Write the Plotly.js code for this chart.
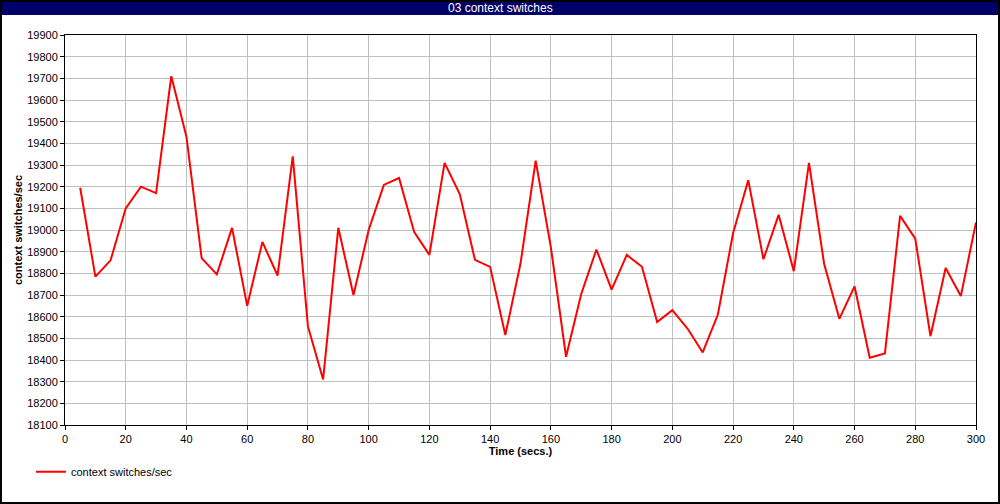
<!DOCTYPE html>
<html>
<head>
<meta charset="utf-8">
<script src="https://cdn.plot.ly/plotly-3.0.1.min.js"></script>
<style>
html,body{margin:0;padding:0;background:#fff;}
#chart{width:1000px;height:504px;}
</style>
</head>
<body>
<div id="chart"></div>
<script>
const chartTitle = "03 context switches";
const seriesName = "context switches/sec";
const xTitle = "Time (secs.)";
const yTitle = "context switches/sec";
const timeSecs = [5,10,15,20,25,30,35,40,45,50,55,60,65,70,75,80,85,90,95,100,
  105,110,115,120,125,130,135,140,145,150,155,160,165,170,175,180,185,190,195,200,
  205,210,215,220,225,230,235,240,245,250,255,260,265,270,275,280,285,290,295,300];
const contextSwitches = [19195,18785,18860,19100,19200,19170,19710,19430,18870,18795,
  19010,18650,18945,18790,19340,18555,18310,19010,18700,19000,
  19208,19240,18990,18885,19310,19166,18862,18830,18515,18845,
  19320,18920,18415,18705,18910,18725,18885,18830,18575,18630,
  18545,18435,18610,18985,19230,18865,19070,18810,19310,18843,
  18590,18740,18410,18430,19065,18960,18510,18825,18695,19035];
const yTicks = [18100,18200,18300,18400,18500,18600,18700,18800,18900,19000,19100,19200,19300,19400,19500,19600,19700,19800,19900];
const xTicks = [0,20,40,60,80,100,120,140,160,180,200,220,240,260,280,300];

const fontFam = "Liberation Sans, Arial, sans-serif";
const trace = {
  x: timeSecs, y: contextSwitches, type: 'scatter', mode: 'lines',
  name: seriesName, line: {color: '#ff0000', width: 2}
};
const layout = {
  width: 1000, height: 504,
  margin: {l: 65, r: 24, t: 35, b: 79, autoexpand: false},
  paper_bgcolor: '#ffffff', plot_bgcolor: '#ffffff',
  font: {family: fontFam, size: 11, color: '#000'},
  showlegend: true,
  legend: {xref: 'container', yref: 'container', x: 0.031, y: 0.093,
    xanchor: 'left', yanchor: 'top', orientation: 'h',
    font: {family: fontFam, size: 11, color: '#000'}, bgcolor: 'rgba(0,0,0,0)'},
  xaxis: {
    range: [0, 300], tickvals: xTicks, ticktext: xTicks.map(String),
    showgrid: true, gridcolor: '#c0c0c0', gridwidth: 1,
    showline: true, linecolor: '#000', linewidth: 1, mirror: true,
    ticks: 'outside', ticklen: 4, tickcolor: '#000', zeroline: false,
    tickfont: {family: fontFam, size: 11},
    title: {text: '<b>' + xTitle + '</b>', font: {family: fontFam, size: 11}, standoff: 5}
  },
  yaxis: {
    range: [18100, 19900], tickvals: yTicks, ticktext: yTicks.map(String),
    showgrid: true, gridcolor: '#c0c0c0', gridwidth: 1,
    showline: true, linecolor: '#000', linewidth: 1, mirror: true,
    ticks: 'outside', ticklen: 4, tickcolor: '#000', zeroline: false,
    tickfont: {family: fontFam, size: 11},
    title: {text: '<b>' + yTitle + '</b>', font: {family: fontFam, size: 11}, standoff: 2}
  },
  shapes: [
    {type: 'rect', xref: 'paper', yref: 'paper', x0: -0.0714, x1: 1.0263,
     y0: 1.0513, y1: 1.0897, fillcolor: '#000068', line: {width: 0}, layer: 'below'},
    {type: 'rect', xref: 'paper', yref: 'paper', x0: -0.0703, x1: 1.0253,
     y0: -0.2, y1: 1.087, fillcolor: 'rgba(0,0,0,0)', line: {color: '#000', width: 2}}
  ],
  annotations: [
    {text: chartTitle, xref: 'paper', yref: 'paper', x: 0.4775, y: 1.0705,
     xanchor: 'center', yanchor: 'middle', showarrow: false,
     font: {family: fontFam, size: 12, color: '#ffffff'}}
  ]
};
Plotly.newPlot('chart', [trace], layout, {displayModeBar: false, staticPlot: true});
</script>
</body>
</html>
